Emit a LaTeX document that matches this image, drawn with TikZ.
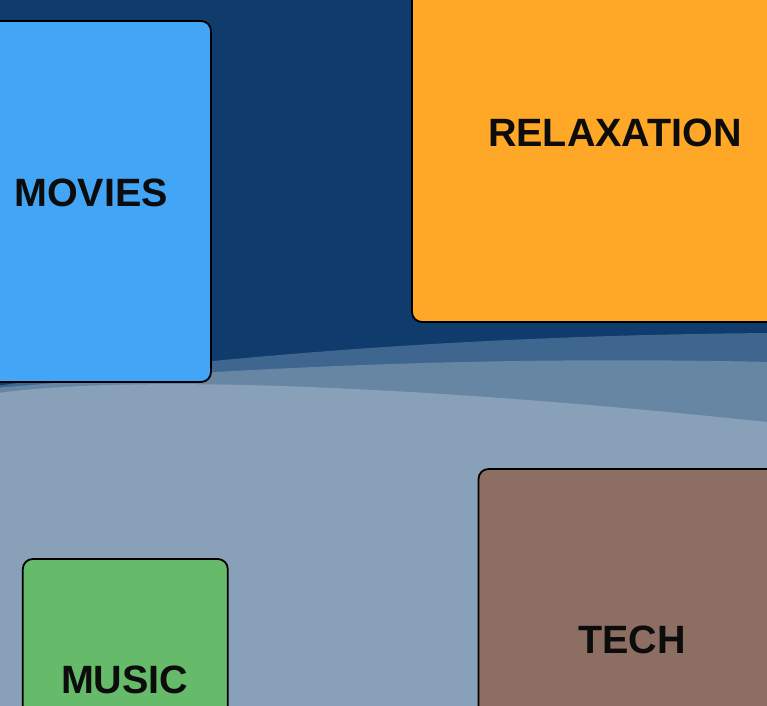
\documentclass[tikz,border=0pt]{standalone}
\usepackage{fontspec}
\setmainfont{Liberation Sans}
\begin{document}
\begin{tikzpicture}[x=1pt,y=-1pt,
  card/.style={draw=black, line width=1.8pt, rounded corners=10pt, inner sep=0pt},
  cardlabel/.style={font=\fontsize{39.5}{41}\selectfont\bfseries, text=labelc, inner sep=0pt, anchor=center}]
\definecolor{bgc}{HTML}{0F3C6C}
\definecolor{wavea}{HTML}{3E668F}
\definecolor{waveb}{HTML}{6686A4}
\definecolor{wavec}{HTML}{88A0B8}
\definecolor{moviec}{HTML}{42A5F5}
\definecolor{relaxc}{HTML}{FFA726}
\definecolor{musicc}{HTML}{66BB6A}
\definecolor{techc}{HTML}{8D6E63}
\definecolor{labelc}{HTML}{0C0C0C}
\useasboundingbox (0,0) rectangle (767,705);
\clip (0,0) rectangle (767,705);
\fill[bgc] (-5,-5) rectangle (772,710);
% waves
\fill[wavea] (-5,386) .. controls (250,352) and (500,335) .. (772,333) -- (772,710) -- (-5,710) -- cycle;
\fill[waveb] (-5,388) .. controls (250,366) and (500,356) .. (772,362) -- (772,710) -- (-5,710) -- cycle;
\fill[wavec] (-5,393.5) .. controls (100,378) and (350,378) .. (772,422.5) -- (772,710) -- (-5,710) -- cycle;
% cards
\node[card, fill=moviec, minimum width=241pt, minimum height=361pt] (movies) at (90.5,201.5) {};
\node[cardlabel] (movieslabel) at (91,193) {MOVIES};
\node[card, fill=relaxc, minimum width=406pt, minimum height=380pt] (relax) at (615,132) {};
\node[cardlabel] (relaxlabel) at (615,132.5) {RELAXATION};
\node[card, fill=musicc, minimum width=205pt, minimum height=242pt] (music) at (125.3,680) {};
\node[cardlabel] (musiclabel) at (124.7,679.5) {MUSIC};
\node[card, fill=techc, minimum width=307pt, minimum height=343pt] (tech) at (632,640.5) {};
\node[cardlabel] (techlabel) at (631.8,640.3) {TECH};
\end{tikzpicture}
\end{document}
